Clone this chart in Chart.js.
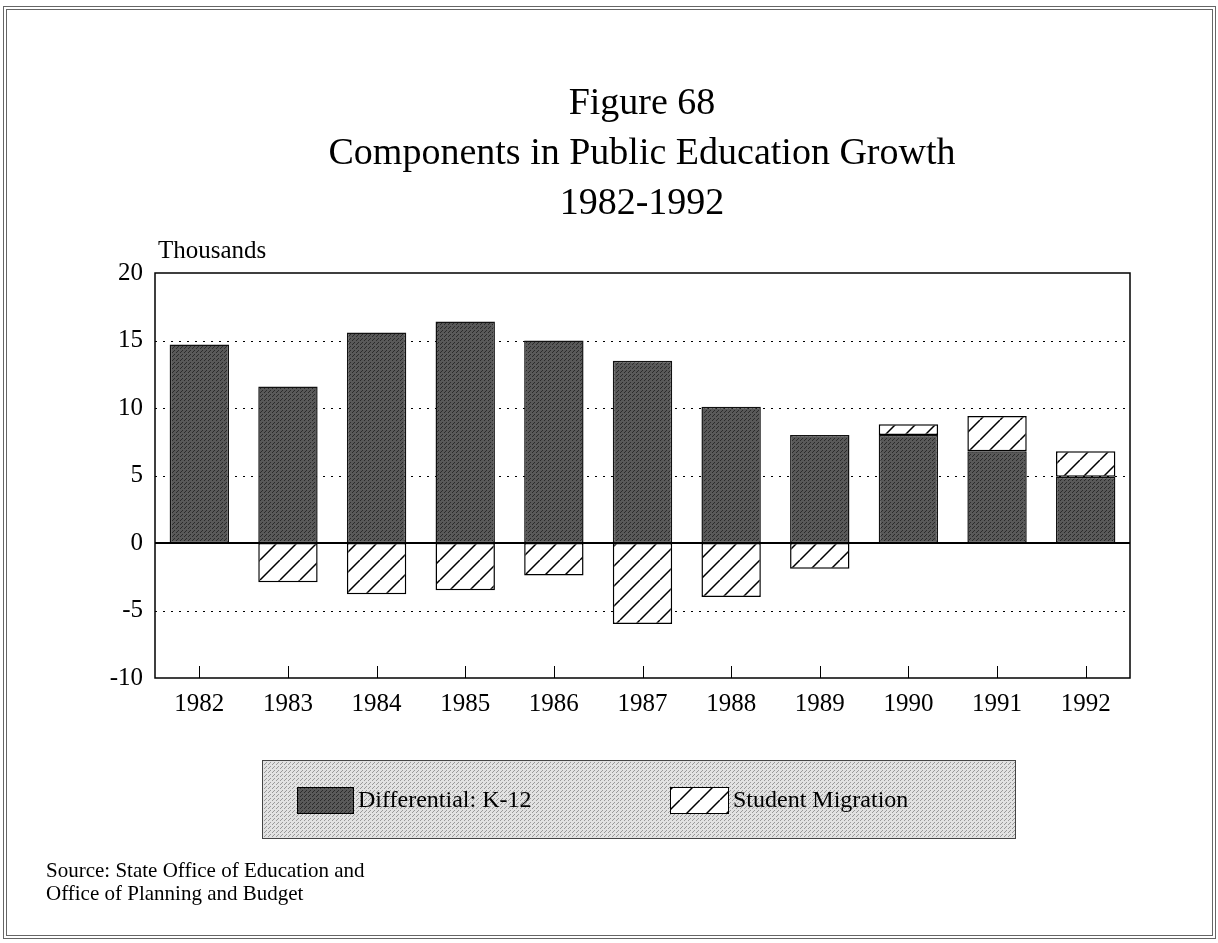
<!DOCTYPE html>
<html>
<head>
<meta charset="utf-8">
<script src="https://cdn.jsdelivr.net/npm/chart.js@4.4.0/dist/chart.umd.min.js"></script>
<style>
  html, body { margin: 0; padding: 0; background: #fff; }
  canvas { display: block; }
</style>
</head>
<body>
<canvas id="grafico" width="1218" height="943"></canvas>
<script>
// dados (milhares)
const years = ['1982', '1983', '1984', '1985', '1986', '1987', '1988', '1989', '1990', '1991', '1992'];
const k12 = [14.7, 11.6, 15.6, 16.4, 15.0, 13.5, 10.1, 8.0, 8.0, 6.8, 4.9];
const migration = [null, -2.9, -3.8, -3.5, -2.4, -6.0, -4.0, -1.9, 0.8, 2.6, 1.9];
const yTicks = [-10, -5, 0, 5, 10, 15, 20];
const titleLines = ['Figure 68', 'Components in Public Education Growth', '1982-1992'];
const sourceLines = ['Source: State Office of Education and', 'Office of Planning and Budget'];

const SERIF = '"Liberation Serif", "Times New Roman", serif';
const canvas = document.getElementById('grafico');
const ctx = canvas.getContext('2d');

// padrões de preenchimento (pontilhado e hachurado)
function stipple(base, dot) {
  const c = document.createElement('canvas');
  c.width = 4; c.height = 4;
  const g = c.getContext('2d');
  g.fillStyle = base;
  g.fillRect(0, 0, 4, 4);
  g.fillStyle = dot;
  g.fillRect(0, 0, 1, 1);
  g.fillRect(2, 2, 1, 1);
  g.fillRect(1, 3, 1, 1);
  return ctx.createPattern(c, 'repeat');
}

function hatch(step) {
  const c = document.createElement('canvas');
  c.width = step; c.height = step;
  const g = c.getContext('2d');
  g.fillStyle = '#fff';
  g.fillRect(0, 0, step, step);
  g.strokeStyle = '#000';
  g.lineWidth = 1.5;
  g.beginPath();
  for (const k of [-1, 0, 1]) {
    g.moveTo(k * step, step);
    g.lineTo(k * step + step, 0);
  }
  g.stroke();
  return ctx.createPattern(c, 'repeat');
}

const darkFill = stipple('#595959', '#2a2a2a');
const lightFill = stipple('#e2e2e2', '#999');
const hatchFill = hatch(20);

const decor = {
  id: 'decor',
  beforeDatasetsDraw(chart) {
    const { ctx, chartArea: a, scales: { y } } = chart;
    ctx.save();
    ctx.strokeStyle = '#000';
    ctx.lineWidth = 1;
    ctx.setLineDash([2, 6]);
    yTicks.forEach(v => {
      if (v === 0 || v === -10 || v === 20) return;
      const py = Math.round(y.getPixelForValue(v)) + 0.5;
      ctx.beginPath();
      ctx.moveTo(a.left, py);
      ctx.lineTo(a.right, py);
      ctx.stroke();
    });
    ctx.restore();
  },
  afterDraw(chart) {
    const { ctx, chartArea: a, scales: { x, y } } = chart;
    ctx.save();

    // moldura do gráfico + linha do zero
    ctx.strokeStyle = '#000';
    ctx.lineWidth = 1.5;
    ctx.strokeRect(a.left, a.top, a.right - a.left, a.bottom - a.top);
    const y0 = y.getPixelForValue(0);
    ctx.lineWidth = 2;
    ctx.beginPath();
    ctx.moveTo(a.left, y0);
    ctx.lineTo(a.right, y0);
    ctx.stroke();

    // marcas do eixo x
    ctx.lineWidth = 1;
    years.forEach((_, i) => {
      const px = Math.round(x.getPixelForValue(i)) + 0.5;
      ctx.beginPath();
      ctx.moveTo(px, a.bottom);
      ctx.lineTo(px, a.bottom - 12);
      ctx.stroke();
    });

    // títulos
    ctx.fillStyle = '#000';
    ctx.textAlign = 'center';
    ctx.textBaseline = 'alphabetic';
    ctx.font = '38px ' + SERIF;
    titleLines.forEach((t, i) => ctx.fillText(t, 642, 114 + i * 50));

    ctx.textAlign = 'left';
    ctx.font = '25px ' + SERIF;
    ctx.fillText('Thousands', 158, 258);

    // legenda
    const lx = 262, ly = 760, lw = 753, lh = 78;
    ctx.fillStyle = lightFill;
    ctx.fillRect(lx, ly, lw, lh);
    ctx.strokeStyle = '#444';
    ctx.lineWidth = 1;
    ctx.strokeRect(lx + 0.5, ly + 0.5, lw, lh);

    const ds = chart.data.datasets;
    const items = [
      { x: 297, w: 56, fill: darkFill, label: ds[0].label },
      { x: 670, w: 58, fill: hatchFill, label: ds[1].label }
    ];
    ctx.font = '24px ' + SERIF;
    ctx.textBaseline = 'middle';
    items.forEach(it => {
      ctx.fillStyle = it.fill;
      ctx.fillRect(it.x, 787, it.w, 26);
      ctx.strokeStyle = '#000';
      ctx.strokeRect(it.x + 0.5, 787.5, it.w, 26);
      ctx.fillStyle = '#000';
      ctx.fillText(it.label, it.x + it.w + 5, 801);
    });

    // fonte
    ctx.textBaseline = 'alphabetic';
    ctx.font = '21px ' + SERIF;
    sourceLines.forEach((t, i) => ctx.fillText(t, 46, 877 + i * 23));

    // moldura externa
    ctx.strokeStyle = '#666';
    ctx.lineWidth = 1;
    ctx.strokeRect(3.5, 6.5, 1212, 932);
    ctx.strokeRect(6.5, 9.5, 1206, 926);
    ctx.restore();
  }
};

new Chart(ctx, {
  type: 'bar',
  data: {
    labels: years,
    datasets: [
      {
        label: 'Differential: K-12',
        data: k12,
        backgroundColor: darkFill,
        borderColor: '#111',
        borderWidth: 1.5,
        borderSkipped: false
      },
      {
        label: 'Student Migration',
        data: migration,
        backgroundColor: hatchFill,
        borderColor: '#000',
        borderWidth: 1.5,
        borderSkipped: false
      }
    ]
  },
  options: {
    responsive: false,
    animation: false,
    devicePixelRatio: 1,
    layout: { padding: { left: 95, right: 88, top: 273, bottom: 205 } },
    plugins: {
      legend: { display: false },
      title: { display: false },
      tooltip: { enabled: false }
    },
    datasets: {
      bar: { categoryPercentage: 1, barPercentage: 0.67 }
    },
    scales: {
      x: {
        stacked: true,
        grid: { display: false },
        border: { display: false },
        ticks: { color: '#000', font: { family: SERIF, size: 25 }, padding: 3, maxRotation: 0 },
        afterFit: s => { s.height = 60; }
      },
      y: {
        stacked: true,
        min: -10,
        max: 20,
        grid: { display: false },
        border: { display: false },
        ticks: {
          stepSize: 5,
          color: '#000',
          font: { family: SERIF, size: 25 },
          padding: 4
        },
        afterBuildTicks: s => { s.ticks = yTicks.map(v => ({ value: v })); },
        afterFit: s => { s.width = 60; }
      }
    }
  },
  plugins: [decor]
});
</script>
</body>
</html>
